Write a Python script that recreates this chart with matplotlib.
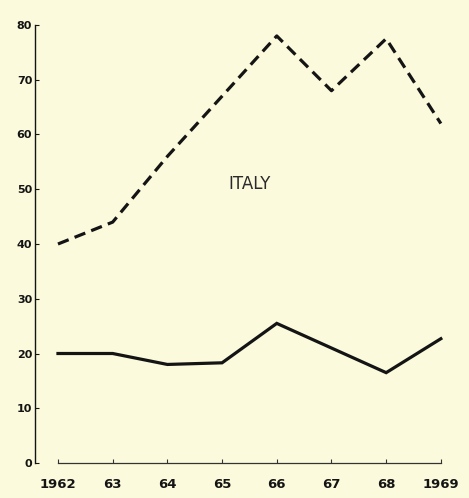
# plot.py: Italy 1962-1969, two series (dashed upper, solid lower)
import matplotlib.pyplot as plt

# data
years = [1962, 1963, 1964, 1965, 1966, 1967, 1968, 1969]
year_labels = ['1962', '63', '64', '65', '66', '67', '68', '1969']
upper = [40, 44, 56, 67, 78, 68, 77.5, 62]      # dashed
lower = [20, 20, 18, 18.3, 25.5, 21, 16.5, 22.7]  # solid
y_ticks = [0, 10, 20, 30, 40, 50, 60, 70, 80]

bg = '#fbfadc'
ink = '#141414'

fig = plt.figure(figsize=(4.69, 4.98), dpi=100, facecolor=bg)
ax = fig.add_axes([35 / 469, 35 / 498, 425 / 469, 438 / 498])
ax.set_facecolor(bg)

ax.plot(years, upper, color=ink, lw=2.3, dashes=(3.6, 2.0), solid_capstyle='butt')
ax.plot(years, lower, color=ink, lw=2.3, solid_joinstyle='miter')

ax.text(1965.5, 51, 'ITALY', fontsize=12, color='#2a2a2a', ha='center', va='center')

ax.set_xlim(1961.58, 1969.35)
ax.set_ylim(0, 80)

# spines: y-axis full height, x-axis only 1962..1969
for s in ['top', 'right']:
    ax.spines[s].set_visible(False)
ax.spines['left'].set_linewidth(1.0)
ax.spines['left'].set_color(ink)
ax.spines['bottom'].set_linewidth(0.9)
ax.spines['bottom'].set_color('#333333')
ax.spines['bottom'].set_bounds(1962, 1969)

ax.set_xticks(years)
ax.set_xticklabels(year_labels)
ax.set_yticks(y_ticks)
ax.tick_params(axis='x', direction='in', length=3, width=0.8, color='#333333',
               pad=11, labelsize=9.5, labelcolor=ink)
ax.tick_params(axis='y', direction='in', length=3, width=0.8, color=ink,
               pad=2, labelsize=8, labelcolor=ink)
for lab in ax.get_xticklabels() + ax.get_yticklabels():
    lab.set_fontweight('bold')

fig.savefig('out.png', dpi=100, facecolor=bg)
